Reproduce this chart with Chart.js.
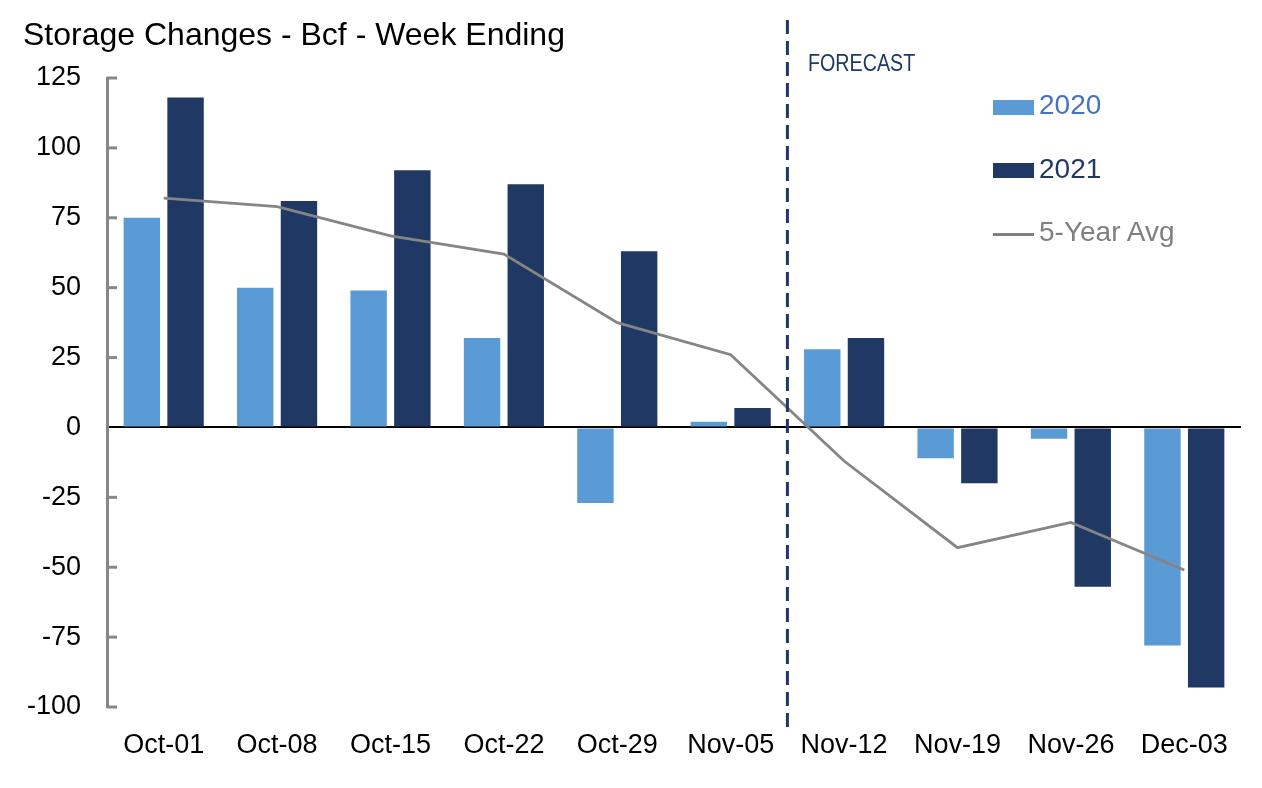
<!DOCTYPE html>
<html>
<head>
<meta charset="utf-8">
<script src="https://cdn.jsdelivr.net/npm/chart.js@4.4.0/dist/chart.umd.min.js"></script>
<style>
  body { margin: 0; background: #fff; }
  #wrap { position: relative; width: 1262px; height: 788px; font-family: "Liberation Sans", Arial, sans-serif; }
  #title { position: absolute; left: 23px; top: 16px; font-size: 32px; color: #000; white-space: nowrap; }
  #forecast { position: absolute; left: 808px; top: 49px; font-size: 24px; color: #1F3864; transform: scaleX(0.82); transform-origin: left top; }
  .txt { position: absolute; left: 1039px; font-size: 28px; white-space: nowrap; }
  .sw { position: absolute; left: 993px; width: 41px; height: 15px; }
</style>
</head>
<body>
<div id="wrap">
  <canvas id="myChart"></canvas>
  <div id="title">Storage Changes - Bcf - Week Ending</div>
  <div id="forecast">FORECAST</div>
  <div class="sw" style="top:100px;background:#5B9BD5"></div>
  <div class="txt" style="top:89px;color:#4472C4">2020</div>
  <div class="sw" style="top:163px;background:#1F3864"></div>
  <div class="txt" style="top:153px;color:#1F3864">2021</div>
  <div class="sw" style="top:233px;height:3px;background:#808080"></div>
  <div class="txt" style="top:216px;color:#7F7F7F">5-Year Avg</div>
</div>
<script>
// week ending labels
const categories = ["Oct-01", "Oct-08", "Oct-15", "Oct-22", "Oct-29", "Nov-05", "Nov-12", "Nov-19", "Nov-26", "Dec-03"];
const values2020 = [75, 50, 49, 32, -27, 2, 28, -11, -4, -78];
const values2021 = [118, 81, 92, 87, 63, 7, 32, -20, -57, -93];
const fiveYearAvg = [82, 79, 68.5, 62, 37.5, 26, -12, -43, -34, -51];
const yTicks = [-100, -75, -50, -25, 0, 25, 50, 75, 100, 125];
const forecastAt = 5.5; // between Nov-05 and Nov-12

// little inward tick marks on the y axis + the forecast divider
const extras = {
    id: 'extras',
    afterDraw(chart) {
        const ctx = chart.ctx;
        const y = chart.scales.y;
        const x = chart.scales.x;
        ctx.save();
        ctx.strokeStyle = '#878787';
        ctx.lineWidth = 3;
        yTicks.forEach(t => {
            if (t === 0) return; // zero line covers it
            const py = y.getPixelForValue(t);
            ctx.beginPath();
            ctx.moveTo(y.right, py);
            ctx.lineTo(y.right + 10, py);
            ctx.stroke();
        });
        const px = x.getPixelForValue(forecastAt);
        ctx.strokeStyle = '#1F3864';
        ctx.lineWidth = 3;
        ctx.setLineDash([14, 7]);
        ctx.beginPath();
        ctx.moveTo(px, 20);
        ctx.lineTo(px, 728);
        ctx.stroke();
        ctx.restore();
    }
};

var ctx = document.getElementById('myChart').getContext('2d');
var chart = new Chart(ctx, {
    type: 'bar',
    data: {
        labels: categories,
        datasets: [{
            type: 'line',
            label: '5-Year Avg',
            data: fiveYearAvg,
            borderColor: '#858585',
            borderWidth: 2.8,
            pointRadius: 0,
            tension: 0,
            order: 0
        }, {
            label: '2020',
            data: values2020,
            backgroundColor: '#5B9BD5',
            order: 1
        }, {
            label: '2021',
            data: values2021,
            backgroundColor: '#1F3864',
            order: 1
        }]
    },
    options: {
        responsive: true,
        maintainAspectRatio: false,
        animation: false,
        categoryPercentage: 0.771,
        barPercentage: 0.833,
        layout: { padding: { top: 78, right: 21, left: 0, bottom: 0 } },
        plugins: {
            legend: { display: false },
            tooltip: { enabled: false }
        },
        scales: {
            x: {
                afterFit: s => { s.height = 81; },
                grid: { display: false, drawTicks: false },
                border: { display: false },
                ticks: {
                    autoSkip: false,
                    maxRotation: 0,
                    padding: 22,
                    color: '#000',
                    font: { family: 'Liberation Sans', size: 27 }
                }
            },
            y: {
                min: -100,
                max: 125,
                afterBuildTicks: s => { s.ticks = yTicks.map(v => ({ value: v })); },
                afterFit: s => { s.width = 107; },
                grid: {
                    drawTicks: false,
                    lineWidth: 2,
                    color: c => c.tick && c.tick.value === 0 ? '#000' : 'rgba(0,0,0,0)'
                },
                border: { color: '#878787', width: 3 },
                ticks: {
                    padding: 26,
                    color: '#000',
                    font: { family: 'Liberation Sans', size: 27 }
                }
            }
        }
    },
    plugins: [extras]
});
</script>
</body>
</html>
